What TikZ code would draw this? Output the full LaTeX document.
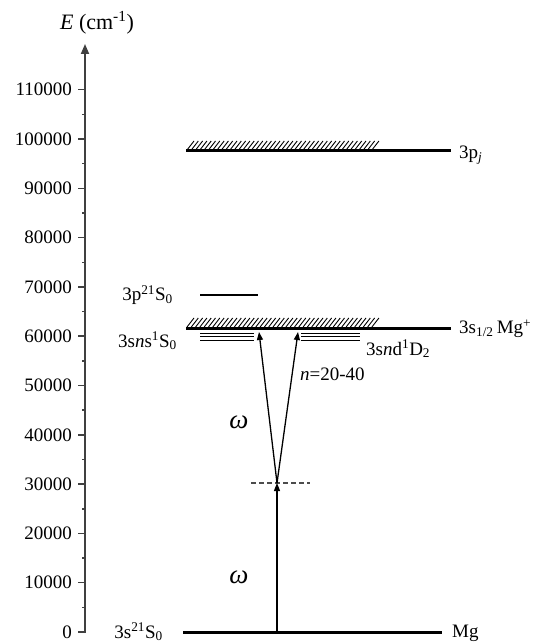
\documentclass[tikz,border=0pt]{standalone}
\usepackage{fontspec}
\setmainfont{Liberation Serif}
\usetikzlibrary{arrows.meta}
\tikzset{
  lbl/.style={inner sep=0pt, font=\fontsize{19}{22}\selectfont},
  tlbl/.style={inner sep=0pt, anchor=east, font=\fontsize{19}{22}\selectfont},
  omg/.style={inner sep=0pt, font=\fontsize{27}{30}\selectfont},
  level/.style={line width=3pt},
  thinlevel/.style={line width=1.4pt},
  hatchline/.style={line width=0.9pt},
  exc/.style={line width=1.3pt, -{Triangle[length=8pt,width=6pt]}},
  axisline/.style={line width=1.8pt, draw=black!75, -{Triangle[length=10pt,width=8pt]}},
  tickline/.style={line width=1.5pt, draw=black!75},
}
\begin{document}
\begin{tikzpicture}[x=1pt,y=-1pt]
\useasboundingbox (0,0) rectangle (533,644);
% axis
\coordinate (ax0) at (85,633);
\coordinate (ax1) at (85,44);
\draw[axisline] (ax0) -- (ax1);
\node[inner sep=0pt, font=\fontsize{22}{25}\selectfont] (Elab) at (97,23) {\textit{E} (cm\textsuperscript{-1})};
\foreach \k/\t in {0/0,1/10000,2/20000,3/30000,4/40000,5/50000,6/60000,7/70000,8/80000,9/90000,10/100000,11/110000}{
  \draw[tickline] (78,{632-49.3*\k}) -- (85,{632-49.3*\k});
  \node[tlbl] (t\k) at (72,{632-49.3*\k}) {\t};
}
\foreach \k in {0,...,10}{
  \draw[tickline] (82,{632-49.3*\k-24.65}) -- (85,{632-49.3*\k-24.65});
}
% ground level
\coordinate (g0) at (183,632);
\coordinate (g1) at (442,632);
\draw[level] (g0) -- (g1);
\node[lbl, anchor=east] (gl) at (163,632) {3s\textsuperscript{21}S\textsubscript{0}};
\node[lbl, anchor=west] (mg) at (452,633) {Mg};
% 3pj level
\coordinate (p0) at (186,151);
\coordinate (p1) at (451,151);
\draw[level] (p0) -- (p1);
\foreach \x in {187,191.3,...,372}{
  \draw[hatchline] (\x,150) -- (\x+7,141);
}
\node[lbl, anchor=west] (pj) at (459,155) {3p\textsubscript{\textit{j}}};
% ion limit
\coordinate (i0) at (186,328);
\coordinate (i1) at (451,328);
\draw[level] (i0) -- (i1);
\foreach \x in {187,191.3,...,372}{
  \draw[hatchline] (\x,327) -- (\x+7,318);
}
\node[lbl, anchor=west] (ion) at (459,329) {3s\textsubscript{1/2}\,Mg\textsuperscript{+}};
% 3p2 1S0
\coordinate (q0) at (200,295);
\coordinate (q1) at (258,295);
\draw[thinlevel] (q0) -- (q1);
\node[lbl, anchor=east] (ql) at (173,295) {3p\textsuperscript{21}S\textsubscript{0}};
% Rydberg series
\foreach \y in {333,336.5,340}{
  \draw[line width=1pt] (200,\y) -- (254,\y);
  \draw[line width=1pt] (301,\y) -- (360,\y);
}
\node[lbl, anchor=east] (nsl) at (177,341) {3s\textit{n}s\textsuperscript{1}S\textsubscript{0}};
\node[lbl, anchor=west] (ndl) at (366,349) {3s\textit{n}d\textsuperscript{1}D\textsubscript{2}};
\node[lbl, anchor=west] (nr) at (300,374) {\textit{n}=20-40};
% virtual level
\coordinate (v0) at (251,483);
\coordinate (v1) at (310,483);
\draw[line width=1.2pt, draw=black!70, dash pattern=on 5pt off 3pt] (v0) -- (v1);
% excitations
\coordinate (gs) at (277,632);
\coordinate (vs) at (277,483);
\coordinate (ns) at (259,332);
\coordinate (nd) at (298,332);
\draw[exc] (gs) -- (vs);
\draw[exc] (vs) -- (ns);
\draw[exc] (vs) -- (nd);
\node[omg] (w1) at (239,422) {\textit{ω}};
\node[omg] (w2) at (239,577) {\textit{ω}};
\end{tikzpicture}
\end{document}
